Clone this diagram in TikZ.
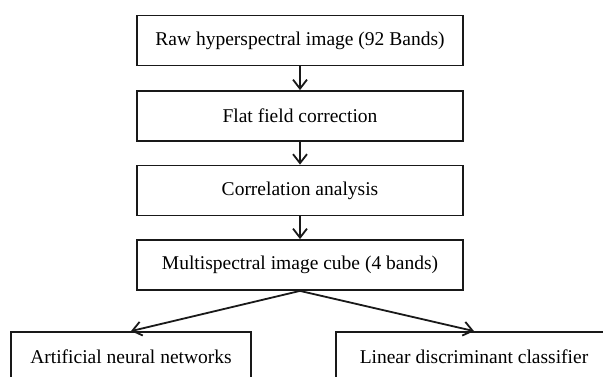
\documentclass[tikz,border=0pt]{standalone}
\usepackage{fontspec}
\setmainfont{Liberation Serif}
\usetikzlibrary{arrows.meta}
\begin{document}
\begin{tikzpicture}[x=1pt,y=-1pt,
  box/.style={draw=black!90, line width=1.8pt, minimum width=326pt, minimum height=50pt, inner sep=0pt,
    font=\fontsize{19.5pt}{22pt}\selectfont},
  arr/.style={draw=black!90, line width=1.8pt, -{Straight Barb[length=9pt,width=14pt,line width=1.8pt]}}]
\useasboundingbox (0,0) rectangle (603,376);
\clip (0,0) rectangle (603,376);
\fill[white] (0,0) rectangle (603,376);
\node[box] (raw) at (300,40.5) {Raw hyperspectral image (92 Bands)};
\node[box] (ffc) at (300,116) {Flat field correction};
\node[box] (cor) at (300,190.5) {Correlation analysis};
\node[box] (msi) at (300,265) {Multispectral image cube (4 bands)};
\node[box, minimum width=240pt] (ann) at (131,357) {Artificial neural networks};
\node[box, minimum width=276pt] (ldc) at (474,357) {Linear discriminant classifier};
\draw[arr] (raw.south) -- (ffc.north);
\draw[arr] (ffc.south) -- (cor.north);
\draw[arr] (cor.south) -- (msi.north);
\draw[arr] (msi.south) -- (ann.north);
\draw[arr] (msi.south) -- (ldc.north);
\end{tikzpicture}
\end{document}
